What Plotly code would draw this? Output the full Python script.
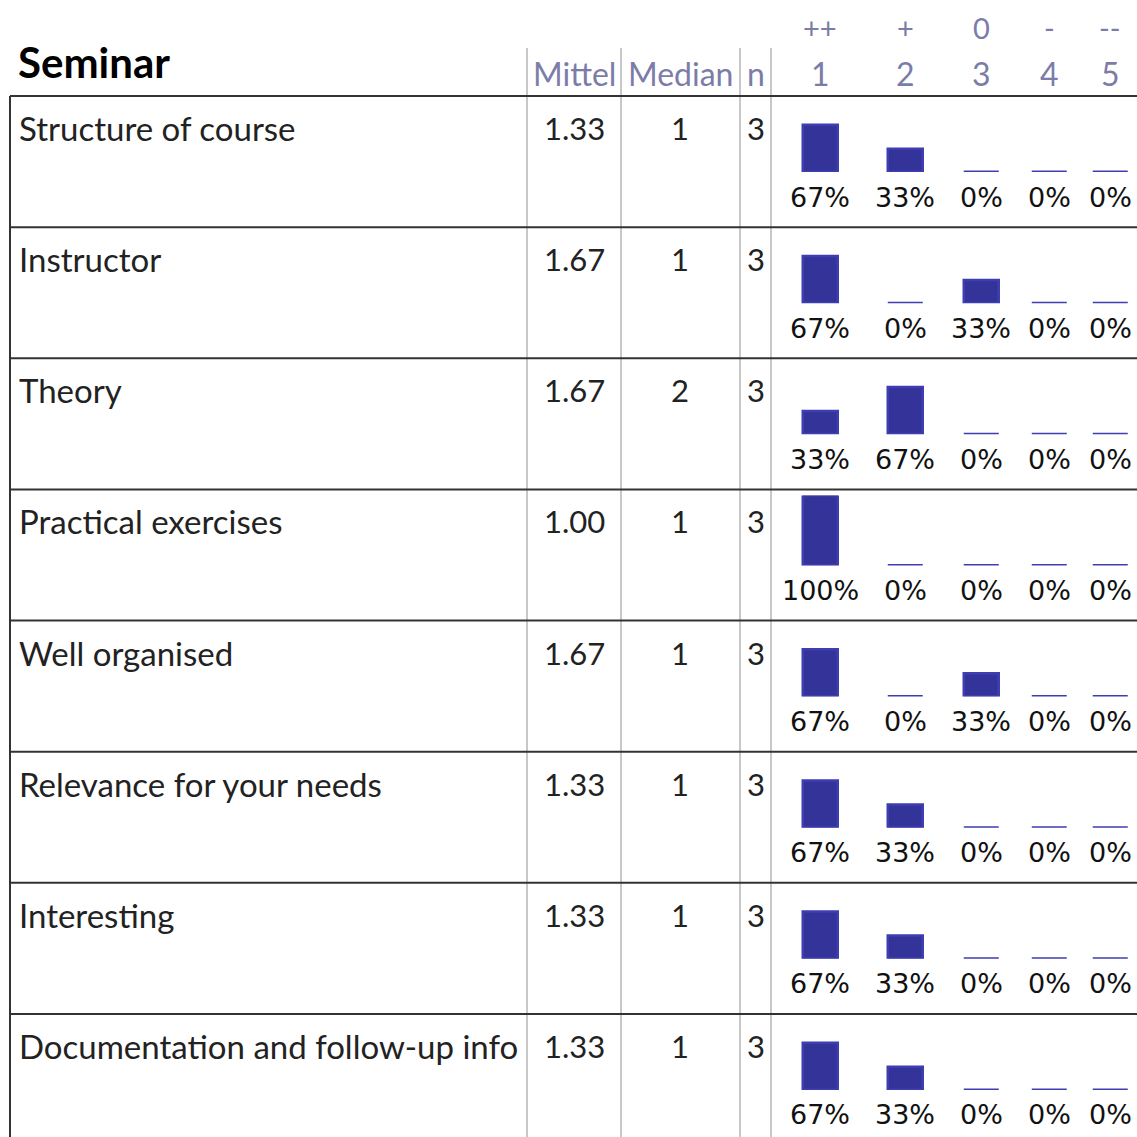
import plotly.graph_objects as go

W = H = 1137

# ---------------- data ----------------
title = "Seminar"
row_labels = ["Structure of course", "Instructor", "Theory", "Practical exercises",
              "Well organised", "Relevance for your needs", "Interesting",
              "Documentation and follow-up info"]
mittel = ["1.33", "1.67", "1.67", "1.00", "1.67", "1.33", "1.33", "1.33"]
median = ["1", "1", "2", "1", "1", "1", "1", "1"]
n_vals = ["3", "3", "3", "3", "3", "3", "3", "3"]
scale_nums = ["1", "2", "3", "4", "5"]
scale_syms = ["++", "+", "0", "-", "--"]
pct_1 = [67, 67, 33, 100, 67, 67, 67, 67]
pct_2 = [33, 0, 67, 0, 0, 33, 33, 33]
pct_3 = [0, 33, 0, 0, 33, 0, 0, 0]
pct_4 = [0, 0, 0, 0, 0, 0, 0, 0]
pct_5 = [0, 0, 0, 0, 0, 0, 0, 0]

# ---------------- layout constants (pixels) ----------------
FONT = "Lato, Open Sans, sans-serif"
PFONT = "DejaVu Sans, sans-serif"
HDR_COL = "#7c7ca8"
TXT_COL = "#222222"
BAR_COL = "#333399"
ZERO_COL = "#3e3eb2"
GRID_DARK = "#333333"
GRID_LIGHT = "#c8c8c8"

col_centers = [820, 905, 981, 1049, 1110]
vlines = [527, 621, 740, 771]
mittel_x, median_x, n_x = 574, 680, 755.5
row_top0, row_h = 96, 131.14
bar_base_off, bar_full = 76, 70
chart_x0, chart_x1 = 771, 1137


def px(x):
    return x / W


def py(y):
    return 1 - y / H


fig = go.Figure()
annotations = []
shapes = []

pcts = list(zip(pct_1, pct_2, pct_3, pct_4, pct_5))

for i, label in enumerate(row_labels):
    top = row_top0 + i * row_h
    k = i + 1
    xa = "x" if k == 1 else f"x{k}"
    ya = "y" if k == 1 else f"y{k}"
    vals = [v / 100 for v in pcts[i]]
    fig.add_trace(go.Bar(
        x=col_centers, y=vals, width=35,
        marker=dict(color=BAR_COL, line=dict(color=ZERO_COL, width=2.5)),
        xaxis=xa, yaxis=ya, showlegend=False, hoverinfo="skip",
    ))
    base_y = top + bar_base_off
    fig.layout[f"xaxis{k if k > 1 else ''}"] = dict(
        domain=[px(chart_x0), px(chart_x1)], range=[chart_x0, chart_x1],
        visible=False, anchor=ya, fixedrange=True)
    fig.layout[f"yaxis{k if k > 1 else ''}"] = dict(
        domain=[py(base_y), py(base_y - bar_full)], range=[0, 1],
        visible=False, anchor=xa, fixedrange=True)

    # percentage labels
    for cx, v in zip(col_centers, pcts[i]):
        annotations.append(dict(
            x=cx, y=0, xref=xa, yref=ya, text=f"{v}%", showarrow=False,
            xanchor="center", yanchor="middle", yshift=-25,
            font=dict(family=PFONT, size=27, color="#111111")))

    ty = py(top + 32)
    annotations.append(dict(x=px(17), y=ty, xref="paper", yref="paper", text=label,
                            showarrow=False, xanchor="left", yanchor="middle",
                            font=dict(family=FONT, size=33, color=TXT_COL)))
    for xx, t in ((mittel_x, mittel[i]), (median_x, median[i]), (n_x, n_vals[i])):
        annotations.append(dict(x=px(xx), y=ty, xref="paper", yref="paper", text=t,
                                showarrow=False, xanchor="center", yanchor="middle",
                                font=dict(family=FONT, size=31, color=TXT_COL)))

    # horizontal row line
    shapes.append(dict(type="line", xref="paper", yref="paper",
                       x0=px(10), x1=1, y0=py(top), y1=py(top),
                       line=dict(color=GRID_DARK, width=2)))

# header
annotations.append(dict(x=px(16), y=py(62), xref="paper", yref="paper", text=f"<b>{title}</b>",
                        showarrow=False, xanchor="left", yanchor="middle",
                        font=dict(family=FONT, size=42, color="#000000")))
for xx, t in ((mittel_x, "Mittel"), (median_x, "Median"), (n_x, "n")):
    annotations.append(dict(x=px(xx), y=py(73), xref="paper", yref="paper", text=t,
                            showarrow=False, xanchor="center", yanchor="middle",
                            font=dict(family=FONT, size=32, color=HDR_COL)))
for cx, num, sym in zip(col_centers, scale_nums, scale_syms):
    annotations.append(dict(x=px(cx), y=py(73), xref="paper", yref="paper", text=num,
                            showarrow=False, xanchor="center", yanchor="middle",
                            font=dict(family=FONT, size=32, color=HDR_COL)))
    annotations.append(dict(x=px(cx), y=py(27), xref="paper", yref="paper", text=sym,
                            showarrow=False, xanchor="center", yanchor="middle",
                            font=dict(family=FONT, size=29, color=HDR_COL)))

# vertical grid lines
for vx in vlines:
    shapes.append(dict(type="line", xref="paper", yref="paper",
                       x0=px(vx), x1=px(vx), y0=py(48), y1=0,
                       line=dict(color=GRID_LIGHT, width=2), layer="below"))
# left border
shapes.append(dict(type="line", xref="paper", yref="paper",
                   x0=px(10), x1=px(10), y0=py(row_top0), y1=0,
                   line=dict(color=GRID_DARK, width=2)))

fig.update_layout(
    width=W, height=H, margin=dict(l=0, r=0, t=0, b=0),
    paper_bgcolor="white", plot_bgcolor="rgba(0,0,0,0)",
    annotations=annotations, shapes=shapes, bargap=0,
)

fig.write_html("out.html", config={"displayModeBar": False},
               post_script="document.body.style.margin='0';")
